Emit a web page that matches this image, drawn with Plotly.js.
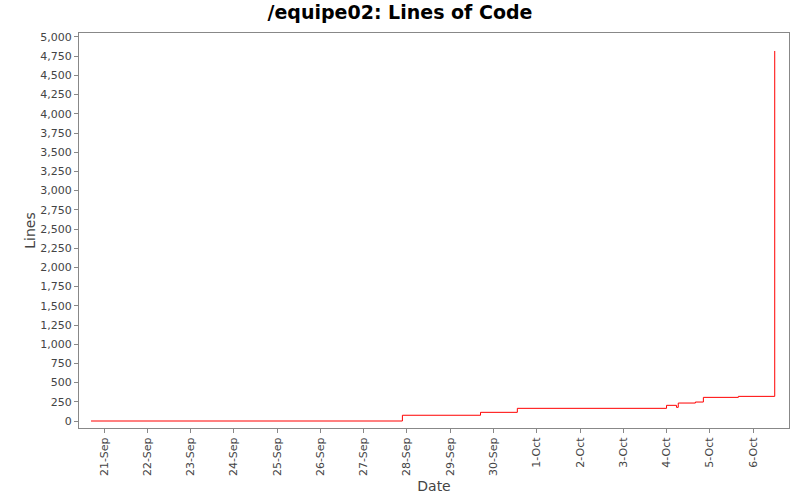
<!DOCTYPE html>
<html>
<head>
<meta charset="utf-8">
<script src="https://cdn.plot.ly/plotly-3.0.1.min.js"></script>
<style>body{margin:0}#chart{width:800px;height:500px}</style>
</head>
<body>
<div id="chart"></div>
<script>
// Zeitpunkte der Änderungen und Zeilenanzahl
const zeiten = [
  "2009-09-20 16:48", "2009-09-27 21:30", "2009-09-29 16:50", "2009-09-30 13:15",
  "2009-10-04 00:00", "2009-10-04 05:30", "2009-10-04 06:30", "2009-10-04 16:00",
  "2009-10-04 20:25", "2009-10-05 15:50", "2009-10-06 12:00"
];
const zeilen = [0, 75, 113, 165, 204, 178, 234, 247, 308, 321, 4818];

const tickWerte = [];
const tickTexte = [];
for (let d = 21; d <= 36; d++) {
  const dt = new Date(Date.UTC(2009, 8, d));
  tickWerte.push(dt.toISOString().slice(0, 10));
  tickTexte.push(dt.getUTCDate() + "-" + ["Sep", "Oct"][dt.getUTCMonth() - 8]);
}

const yTicks = [];
for (let v = 0; v <= 5000; v += 250) yTicks.push(v);

const daten = [{
  x: zeiten,
  y: zeilen,
  type: "scatter",
  mode: "lines",
  line: { shape: "hv", color: "#ff0000", width: 1 },
  hoverinfo: "x+y"
}];

const layout = {
  title: {
    text: "<b>/equipe02: Lines of Code</b>",
    font: { family: "DejaVu Sans", size: 19, color: "#000" },
    x: 0.5, y: 0.975, yanchor: "middle"
  },
  font: { family: "DejaVu Sans", size: 11, color: "#444" },
  paper_bgcolor: "#fff",
  plot_bgcolor: "#fff",
  showlegend: false,
  xaxis: {
    type: "date",
    range: ["2009-09-20 10:08", "2009-10-06 19:55"],
    tickvals: tickWerte,
    ticktext: tickTexte,
    tickangle: -90,
    ticks: "outside",
    ticklen: 4,
    tickcolor: "#888",
    showgrid: false,
    zeroline: false,
    showline: true,
    linecolor: "#888",
    mirror: true,
    title: { text: "Date", font: { size: 14, color: "#444" } }
  },
  yaxis: {
    range: [-91, 5052],
    tickvals: yTicks,
    tickformat: ",d",
    ticks: "outside",
    ticklen: 4,
    tickcolor: "#888",
    showgrid: false,
    zeroline: false,
    showline: true,
    linecolor: "#888",
    mirror: true,
    title: { text: "Lines", font: { size: 14, color: "#444" } }
  },
  margin: { t: 33, r: 11, b: 72, l: 79 }
};

Plotly.newPlot("chart", daten, layout, { displayModeBar: false });
</script>
</body>
</html>
